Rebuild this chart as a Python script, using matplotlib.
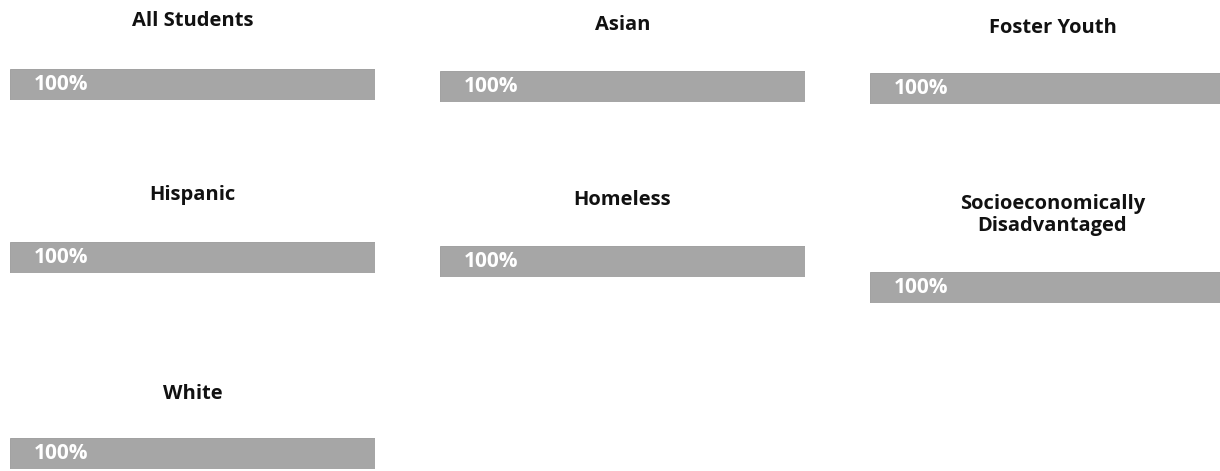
import matplotlib.pyplot as plt

# student groups and their rates (all at 100%)
groups = ["All Students", "Asian", "Foster Youth",
          "Hispanic", "Homeless", "Socioeconomically\nDisadvantaged",
          "White"]
rates = [100, 100, 100, 100, 100, 100, 100]

W, H = 1220, 471
# panel layout in pixels: bar left, bar top, title gap above bar top
layout = [(10, 69, 48), (440, 71, 46), (870, 73, 45),
          (10, 242, 47), (440, 246, 46), (870, 272, 57),
          (10, 438, 44)]
bar_w, bar_h = 365, 31
bar_colour = "#a6a6a6"

plt.rcParams['font.family'] = ['Open Sans', 'DejaVu Sans']

fig = plt.figure(figsize=(W / 100, H / 100), dpi=100)

for name, rate, (left, top, gap) in zip(groups, rates, layout):
    ax = fig.add_axes([left / W, 1 - (top + bar_h) / H, bar_w / W, bar_h / H])
    ax.barh(0, rate, height=1.0, color=bar_colour, edgecolor="#999999", linewidth=0.6)
    ax.set_xlim(0, 100)
    ax.set_ylim(-0.5, 0.5)
    ax.axis('off')
    ax.annotate(f"{rate}%", xy=(0, 0), xytext=(17, 0), textcoords='offset points',
                va='center', ha='left', color='white', fontsize=15, fontweight='bold')
    ax.text(0.5, 1 + gap / bar_h, name, transform=ax.transAxes, ha='center', va='center',
            fontsize=14.5, fontweight='bold', color='#111111', linespacing=1.15)

fig.savefig("out.png", dpi=100)
